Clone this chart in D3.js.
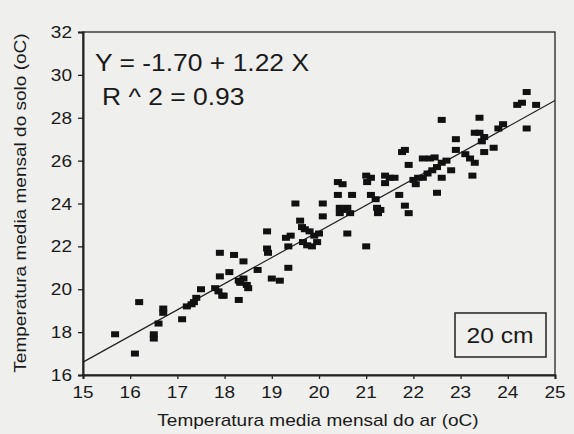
<!DOCTYPE html>
<meta charset="utf-8">
<head>
<style>
  body { margin: 0; background: #efefed; }
  text { font-family: "Liberation Sans", Arial, sans-serif; fill: #1a1a1a; }
</style>
</head>
<script src="https://cdn.jsdelivr.net/npm/d3@7"></script>
<body>
<div id="vis"></div>
<script>
// air temperature (x) and soil temperature at 20 cm (y), oC
var airTemp = [15.68,16.1,16.19,16.5,16.5,16.6,16.7,16.7,17.1,17.2,17.3,17.35,17.4,17.5,17.8,17.87,17.95,17.98,17.9,17.9,
  18.1,18.2,18.3,18.33,18.4,18.47,18.5,18.3,18.4,18.7,18.9,18.9,18.92,19.0,19.17,19.3,19.35,19.35,19.4,19.5,
  19.6,19.64,19.7,19.8,19.9,19.66,19.75,19.85,19.96,20.0,20.08,20.08,20.4,20.5,20.4,20.44,20.5,20.6,20.44,20.66,
  20.7,20.6,21.0,21.1,21.02,21.1,21.2,21.23,21.3,21.25,21.0,21.4,21.4,21.5,21.6,21.76,21.82,21.9,21.7,21.82,
  21.9,22.0,22.05,22.1,22.2,22.2,22.35,22.45,22.3,22.4,22.5,22.6,22.7,22.5,22.6,22.6,22.8,22.9,22.9,23.1,
  23.2,23.3,23.25,23.3,23.4,23.5,23.45,23.4,23.5,23.7,23.8,23.9,24.4,24.2,24.3,24.6,24.4];
var soilTemp = [17.9,17.0,19.4,17.9,17.7,18.4,19.1,18.9,18.6,19.2,19.3,19.4,19.6,20.0,20.05,19.9,19.7,19.7,21.7,20.6,
  20.8,21.6,20.4,20.3,20.5,20.2,20.05,19.5,21.3,20.9,22.7,21.9,21.7,20.5,20.4,22.4,22.0,21.0,22.5,24.0,
  23.2,22.9,22.8,22.7,22.5,22.2,22.05,22.0,22.2,22.6,24.0,23.4,25.0,24.9,24.4,23.8,23.7,23.8,23.55,23.55,
  24.4,22.6,25.3,25.2,25.0,24.4,24.2,23.8,23.7,23.55,22.0,25.3,24.95,25.2,25.2,26.4,26.5,25.8,24.4,23.9,
  23.55,25.1,24.9,25.2,25.2,26.1,26.1,26.15,25.4,25.55,25.7,25.9,26.0,24.5,27.9,25.2,25.55,27.0,26.5,26.3,
  26.1,25.9,25.3,27.3,27.3,27.1,26.9,28.0,26.4,26.6,27.5,27.7,29.2,28.6,28.7,28.6,27.5];
var xTicks = [15,16,17,18,19,20,21,22,23,24,25];
var yTicks = [16,18,20,22,24,26,28,30,32];
var intercept = -1.70, slope = 1.22;

var width = 574, height = 434;
var margin = {top: 32, left: 83, bottom: 59, right: 19};
var chartWidth = width - margin.left - margin.right,
    chartHeight = height - margin.top - margin.bottom;

var svg = d3.select("#vis").append("svg")
    .attr("width", width).attr("height", height);

svg.append("rect").attr("width", width).attr("height", height).attr("fill", "#efefed");

// helper: slightly wide text like the scanned figure
function wideText(parent, x, y, str, size, anchor, sx) {
  var g = parent.append("g").attr("transform", "translate(" + x + "," + y + ")");
  return g.append("text")
      .attr("transform", "scale(" + (sx || 1.12) + ",1)")
      .attr("text-anchor", anchor || "start")
      .attr("font-size", size + "px")
      .text(str);
}

var g = svg.append("g").attr("transform", "translate(" + margin.left + "," + margin.top + ")");

var x = d3.scaleLinear().domain([15, 25]).range([0, chartWidth]);
var y = d3.scaleLinear().domain([16, 32]).range([chartHeight, 0]);

// frame
g.append("rect").attr("width", chartWidth).attr("height", chartHeight)
    .attr("fill", "none").attr("stroke", "#222").attr("stroke-width", 1.3);

// axes
var xAxis = g.append("g").attr("transform", "translate(0," + chartHeight + ")")
    .call(d3.axisBottom(x).tickValues(xTicks).tickSize(4).tickFormat(""));
var yAxis = g.append("g")
    .call(d3.axisLeft(y).tickValues(yTicks).tickSize(5).tickFormat(""));
[xAxis, yAxis].forEach(function(a) {
  a.select(".domain").attr("stroke", "#222").attr("stroke-width", 2);
  a.selectAll(".tick line").attr("stroke", "#222").attr("stroke-width", 1.3);
});

xTicks.forEach(function(t) {
  wideText(g, x(t), chartHeight + 23, String(t), 17, "middle");
});
yTicks.forEach(function(t) {
  wideText(g, -11, y(t) + 6, String(t), 17, "end");
});

// regression line
g.append("line")
    .attr("x1", x(15)).attr("y1", y(intercept + slope * 15))
    .attr("x2", x(25)).attr("y2", y(intercept + slope * 25))
    .attr("stroke", "#222").attr("stroke-width", 1.2);

// points
g.selectAll(".pt").data(airTemp).enter().append("rect")
    .attr("class", "pt")
    .attr("x", function(d) { return x(d) - 4; })
    .attr("y", function(d, i) { return y(soilTemp[i]) - 3; })
    .attr("width", 8).attr("height", 6)
    .attr("fill", "#111");

// equation
wideText(svg, 95, 71, "Y = -1.70 + 1.22 X", 23, "start", 1.15);
wideText(svg, 102, 105, "R ^ 2 = 0.93", 23, "start", 1.15);

// depth box
svg.append("rect").attr("x", 455).attr("y", 313).attr("width", 91).attr("height", 44)
    .attr("fill", "none").attr("stroke", "#222").attr("stroke-width", 1.5);
wideText(svg, 500, 343, "20 cm", 22, "middle", 1.12);

// axis titles
wideText(svg, 318, 426, "Temperatura media mensal do ar (oC)", 17, "middle", 1.12);
var yt = svg.append("g").attr("transform", "translate(26,203) rotate(-90)");
wideText(yt, 0, 0, "Temperatura media mensal do solo (oC)", 17, "middle", 1.12);
</script>
</body>
